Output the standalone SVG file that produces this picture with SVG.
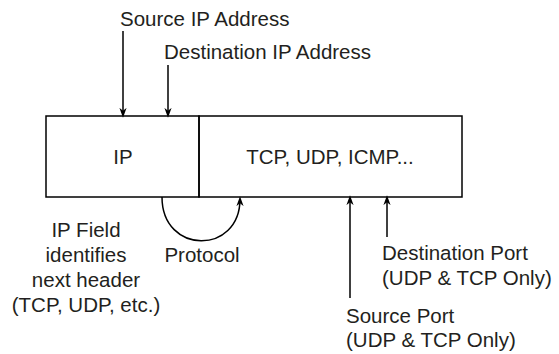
<svg xmlns="http://www.w3.org/2000/svg" width="559" height="354" viewBox="0 0 559 354">
<style>
text{font-family:"Liberation Sans",Arial,sans-serif;font-size:20.5px;fill:#231f20}
.c{text-anchor:middle}
.ln{stroke:#000;stroke-width:1.5;fill:none}
</style>
<defs>
<marker id="ah" markerWidth="10" markerHeight="14" refX="10" refY="5" orient="auto" markerUnits="userSpaceOnUse" viewBox="0 0 14 10">
<path d="M0,0 L14,5 L0,10 L4,5 Z" fill="#000"/>
</marker>
</defs>
<rect width="559" height="354" fill="#fff"/>
<g id="ip-box">
<rect x="46" y="116" width="153" height="81" fill="none" stroke="#000" stroke-width="1.5"/>
<text class="c" x="123" y="164">IP</text>
</g>
<g id="transport-box">
<rect x="199" y="116" width="263" height="81" fill="none" stroke="#000" stroke-width="1.5"/>
<text class="c" x="330" y="164">TCP, UDP, ICMP...</text>
</g>
<g id="connectors">
<line class="ln" x1="123" y1="31" x2="123" y2="115" marker-end="url(#ah)"/>
<line class="ln" x1="168" y1="65" x2="168" y2="115" marker-end="url(#ah)"/>
<line class="ln" x1="350" y1="298" x2="350" y2="198" marker-end="url(#ah)"/>
<line class="ln" x1="387" y1="237" x2="387" y2="198" marker-end="url(#ah)"/>
<path class="ln" d="M162 197 C 162 255, 240 255, 240 199" marker-end="url(#ah)"/>
</g>
<g id="label-source-ip"><text x="120" y="26">Source IP Address</text></g>
<g id="label-dest-ip"><text x="164" y="59">Destination IP Address</text></g>
<g id="label-ip-field">
<text class="c" x="86" y="237">IP Field</text>
<text class="c" x="86" y="262">identifies</text>
<text class="c" x="86" y="287">next header</text>
<text class="c" x="86" y="312">(TCP, UDP, etc.)</text>
</g>
<g id="label-protocol"><text class="c" x="202" y="262">Protocol</text></g>
<g id="label-dest-port">
<text x="382" y="260">Destination Port</text>
<text x="382" y="285">(UDP &amp; TCP Only)</text>
</g>
<g id="label-source-port">
<text x="346" y="323">Source Port</text>
<text x="346" y="347">(UDP &amp; TCP Only)</text>
</g>
</svg>
